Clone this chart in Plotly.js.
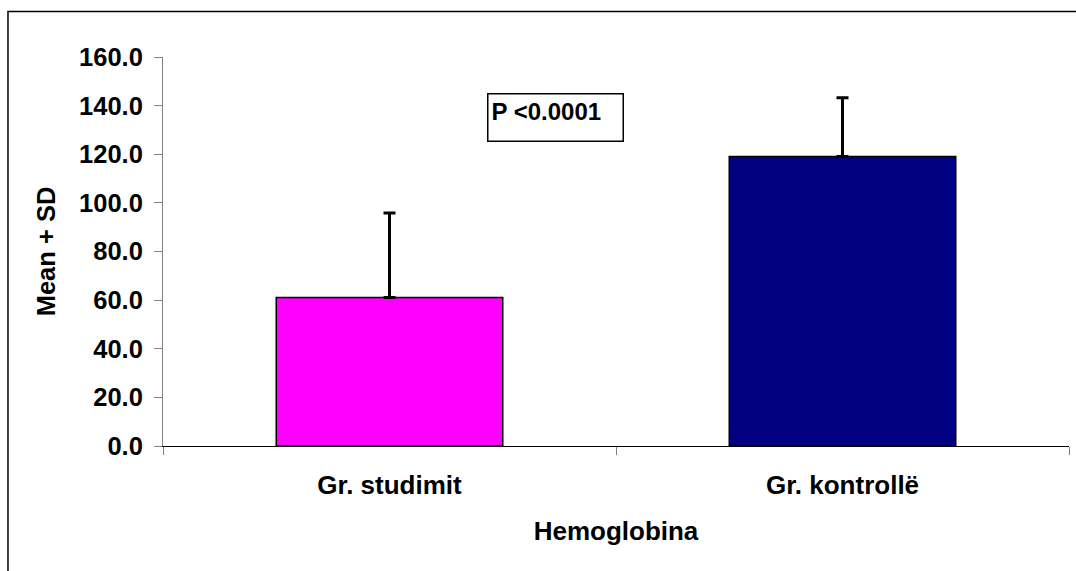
<!DOCTYPE html>
<html>
<head>
<meta charset="utf-8">
<script src="https://cdn.plot.ly/plotly-3.0.1.min.js"></script>
<style>
  html, body { margin: 0; padding: 0; background: #ffffff; }
  #chart { width: 1076px; height: 571px; }
</style>
</head>
<body>
<div id="chart"></div>
<script>
// Hemoglobin: mean with upward SD bar for each group
const groups = ['Gr. studimit', 'Gr. kontrollë'];
const means = [61.1, 119.1];
const sds = [34.7, 24.1];
const barColors = ['#ff00ff', '#000080'];
const pLabel = 'P <0.0001';
const yTicks = [0, 20, 40, 60, 80, 100, 120, 140, 160];

const FONT = '"Liberation Sans", Arial, sans-serif';

const trace = {
  type: 'bar',
  x: groups,
  y: means,
  width: 0.5,
  marker: { color: barColors, line: { color: '#000000', width: 1.5 } },
  error_y: {
    type: 'data',
    symmetric: false,
    array: sds,
    arrayminus: sds.map(() => 0),
    color: '#000000',
    thickness: 3,
    width: 6
  },
  hoverinfo: 'skip'
};

const layout = {
  width: 1076,
  height: 571,
  margin: { l: 163, r: 7, t: 57, b: 125 },
  paper_bgcolor: '#ffffff',
  plot_bgcolor: '#ffffff',
  showlegend: false,
  font: { family: FONT, color: '#000000' },
  xaxis: {
    type: 'category',
    showline: true,
    linecolor: '#000000',
    linewidth: 1,
    ticks: 'outside',
    tickson: 'boundaries',
    ticklen: 8,
    tickcolor: '#808080',
    tickwidth: 1,
    showgrid: false,
    ticklabelstandoff: 16,
    tickfont: { family: FONT, size: 26, color: '#000000', weight: 'bold' },
    title: { text: '<b>Hemoglobina</b>', font: { family: FONT, size: 26, color: '#000000' }, standoff: 22 }
  },
  yaxis: {
    range: [0, 160],
    tickmode: 'array',
    tickvals: yTicks,
    ticktext: yTicks.map(v => v.toFixed(1)),
    showline: true,
    linecolor: '#808080',
    linewidth: 1,
    ticks: 'outside',
    ticklen: 8,
    tickcolor: '#808080',
    showgrid: false,
    zeroline: false,
    ticklabelstandoff: 6,
    tickfont: { family: FONT, size: 25.5, color: '#000000', weight: 'bold' },
    title: { text: '<b>Mean + SD</b>', font: { family: FONT, size: 25.5, color: '#000000' }, standoff: 16 }
  },
  annotations: [{
    xref: 'paper', yref: 'y',
    x: 0.4332, y: 135,
    xanchor: 'center', yanchor: 'middle',
    text: '<b>' + pLabel + '</b>',
    showarrow: false,
    align: 'left',
    valign: 'top',
    width: 128,
    height: 40,
    borderpad: 3,
    bordercolor: '#000000',
    borderwidth: 1.5,
    bgcolor: '#ffffff',
    font: { family: FONT, size: 24, color: '#000000' }
  }],
  shapes: [{
    type: 'rect',
    xref: 'paper', yref: 'paper',
    x0: -0.1711, x1: 1.2,
    y0: -0.5, y1: 1.117,
    line: { color: '#000000', width: 1.5 },
    fillcolor: 'rgba(0,0,0,0)',
    layer: 'below'
  }]
};

Plotly.newPlot('chart', [trace], layout, { staticPlot: true, displayModeBar: false });
</script>
</body>
</html>
